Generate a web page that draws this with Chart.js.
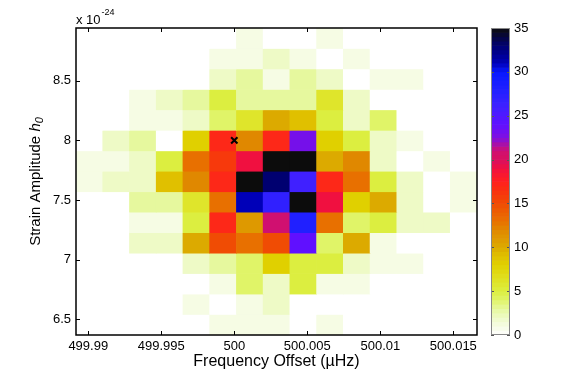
<!DOCTYPE html>
<html>
<head>
<meta charset="utf-8">
<script src="https://cdn.jsdelivr.net/npm/chart.js@4.4.1/dist/chart.umd.min.js"></script>
<style>
  body { margin: 0; background: #fff; }
  #wrap { position: relative; width: 581px; height: 378px; }
  #wrap canvas { position: absolute; left: 0; top: 0; }
</style>
</head>
<body>
<div id="wrap">
  <canvas id="heat" width="581" height="378"></canvas>
  <canvas id="cbar" width="581" height="378"></canvas>
</div>
<script>
// 2D histogram, bin centres in frequency, bin edges in strain (x 1e-24)
const freqCenters = [499.990075, 499.991906, 499.993737, 499.995568, 499.997398, 499.999229, 500.001060,
    500.002890, 500.004721, 500.006552, 500.008382, 500.010213, 500.012044, 500.013875, 500.015705];
const strainEdges = [8.942, 8.770, 8.599, 8.427, 8.256, 8.084, 7.912, 7.741, 7.569, 7.398, 7.226, 7.054, 6.883, 6.711, 6.540, 6.368];

// counts, rows from top (high h0) to bottom
const counts = [
    [0, 0, 0, 0, 0, 0, 1, 0, 0, 1, 0, 0, 0, 0, 0],
    [0, 0, 0, 0, 0, 1, 1, 2, 1, 0, 1, 0, 0, 0, 0],
    [0, 0, 0, 0, 0, 2, 3, 1, 3, 2, 0, 1, 1, 0, 0],
    [0, 0, 1, 2, 3, 5, 3, 3, 3, 6, 2, 0, 0, 0, 0],
    [0, 0, 1, 1, 2, 4, 6, 10, 9, 5, 2, 4, 0, 0, 0],
    [0, 2, 3, 0, 8, 17, 12, 17, 23, 8, 5, 2, 1, 0, 0],
    [1, 1, 2, 5, 13, 16, 19, 35, 35, 10, 12, 2, 0, 1, 0],
    [1, 2, 2, 9, 12, 17, 35, 33, 26, 17, 13, 5, 2, 0, 1],
    [0, 0, 3, 3, 6, 13, 31, 27, 35, 19, 8, 10, 2, 0, 1],
    [0, 0, 1, 1, 5, 17, 11, 21, 28, 13, 4, 5, 2, 2, 0],
    [0, 0, 2, 2, 10, 15, 13, 15, 24, 4, 10, 1, 0, 0, 0],
    [0, 0, 0, 0, 2, 3, 4, 8, 5, 5, 2, 1, 1, 0, 0],
    [0, 0, 0, 0, 0, 1, 4, 2, 5, 1, 1, 0, 0, 0, 0],
    [0, 0, 0, 0, 1, 0, 1, 2, 0, 0, 0, 0, 0, 0, 0],
    [0, 0, 0, 0, 0, 1, 1, 1, 0, 1, 0, 0, 0, 0, 0]
];

const injected = [{ x: 500, y: 8 }];

const xTicks = [499.99, 499.995, 500, 500.005, 500.01, 500.015];
const yTicks = [6.5, 7, 7.5, 8, 8.5];
const cbarTicks = [0, 5, 10, 15, 20, 25, 30, 35];

const cmapStops = [
    [0, '#ffffff'], [1, '#f6fce4'], [2, '#eefac6'], [3, '#e6f89e'], [4, '#e0f468'],
    [5, '#dcee40'], [6.5, '#e0e020'], [8, '#e0d000'], [9, '#e0c000'], [10, '#dcaa00'],
    [12, '#e08800'], [13, '#e87000'], [15, '#f04c04'], [16.5, '#fa3010'], [17.5, '#ff2020'],
    [19, '#f01040'], [20, '#d81060'], [21, '#d01070'], [22.5, '#8010e0'], [24, '#6010ff'],
    [26, '#4020ff'], [28, '#2020ff'], [30, '#0818ff'], [31, '#0000b8'], [33, '#000070'], [35, '#0c0c0c']
];

function hexRgb(h) {
    return [parseInt(h.slice(1, 3), 16), parseInt(h.slice(3, 5), 16), parseInt(h.slice(5, 7), 16)];
}

function cmap(v) {
    if (v <= cmapStops[0][0]) return cmapStops[0][1];
    for (let i = 1; i < cmapStops.length; i++) {
        if (v <= cmapStops[i][0]) {
            const [v0, c0] = cmapStops[i - 1];
            const [v1, c1] = cmapStops[i];
            const t = (v - v0) / (v1 - v0);
            const a = hexRgb(c0), b = hexRgb(c1);
            const rgb = a.map((q, k) => Math.round(q + (b[k] - q) * t));
            return `rgb(${rgb[0]},${rgb[1]},${rgb[2]})`;
        }
    }
    return cmapStops[cmapStops.length - 1][1];
}

Chart.defaults.color = '#000';
Chart.defaults.font.family = '"Liberation Sans", Arial, sans-serif';
Chart.defaults.font.size = 13;

const rowSets = counts.map((row, r) => ({
    type: 'bar',
    order: 1,
    data: row.map((n, c) => ({ x: freqCenters[c], y: [strainEdges[r + 1], strainEdges[r]] })),
    backgroundColor: row.map(n => cmap(n)),
    borderWidth: 0,
    grouped: false,
    barPercentage: 1,
    categoryPercentage: 1
}));

// frame, inward ticks and the odd bits of text
const heatDecor = {
    id: 'heatDecor',
    afterDatasetsDraw(chart) {
        const { ctx, chartArea: a, scales: { x, y } } = chart;
        ctx.save();
        ctx.strokeStyle = '#000';
        ctx.lineWidth = 1;
        ctx.beginPath();
        x.ticks.forEach(t => {
            const px = Math.round(x.getPixelForValue(t.value)) + 0.5;
            ctx.moveTo(px, a.bottom); ctx.lineTo(px, a.bottom - 4);
            ctx.moveTo(px, a.top); ctx.lineTo(px, a.top + 4);
        });
        y.ticks.forEach(t => {
            const py = Math.round(y.getPixelForValue(t.value)) + 0.5;
            ctx.moveTo(a.left, py); ctx.lineTo(a.left + 4, py);
            ctx.moveTo(a.right, py); ctx.lineTo(a.right - 4, py);
        });
        ctx.stroke();
        ctx.lineWidth = 1.5;
        ctx.strokeRect(a.left, a.top, a.right - a.left, a.bottom - a.top);

        // exponent
        ctx.fillStyle = '#000';
        ctx.textBaseline = 'alphabetic';
        ctx.textAlign = 'left';
        ctx.font = '13px "Liberation Sans", Arial, sans-serif';
        ctx.fillText('x 10', a.left, 24);
        const w10 = ctx.measureText('x 10').width;
        ctx.font = '9px "Liberation Sans", Arial, sans-serif';
        ctx.fillText('-24', a.left + w10 + 1, 15);

        // y title with italic h and subscript 0
        const fNorm = '15px "Liberation Sans", Arial, sans-serif';
        const fItal = 'italic 15px "Liberation Sans", Arial, sans-serif';
        const fSub = 'italic 11px "Liberation Sans", Arial, sans-serif';
        const p1 = 'Strain Amplitude ';
        ctx.font = fNorm; const w1 = ctx.measureText(p1).width;
        ctx.font = fItal; const w2 = ctx.measureText('h').width;
        ctx.font = fSub; const w3 = ctx.measureText('0').width;
        const total = w1 + w2 + w3;
        ctx.translate(40, (a.top + a.bottom) / 2);
        ctx.rotate(-Math.PI / 2);
        let sx = -total / 2;
        ctx.font = fNorm; ctx.fillText(p1, sx, 0); sx += w1;
        ctx.font = fItal; ctx.fillText('h', sx, 0); sx += w2;
        ctx.font = fSub; ctx.fillText('0', sx, 3);
        ctx.restore();
    }
};

new Chart(document.getElementById('heat'), {
    type: 'bar',
    data: {
        datasets: [
            {
                type: 'scatter',
                order: 0,
                data: injected,
                pointStyle: 'crossRot',
                radius: 4.5,
                borderWidth: 2,
                borderColor: '#000',
                backgroundColor: '#000'
            },
            ...rowSets
        ]
    },
    options: {
        responsive: false,
        animation: false,
        events: [],
        layout: { padding: { left: 0, right: 104, top: 28, bottom: 0 } },
        plugins: { legend: { display: false }, tooltip: { enabled: false } },
        scales: {
            x: {
                type: 'linear',
                offset: false,
                min: 499.98916,
                max: 500.01662,
                grid: { display: false, drawTicks: false },
                border: { display: false },
                afterBuildTicks: s => { s.ticks = xTicks.map(v => ({ value: v })); },
                afterFit: s => { s.height = 43; },
                ticks: { padding: 4, maxRotation: 0, autoSkip: false, callback: v => String(v) },
                title: { display: true, text: 'Frequency Offset (\u00b5Hz)', font: { size: 16 }, padding: { top: 0, bottom: 7 } }
            },
            y: {
                type: 'linear',
                min: 6.368,
                max: 8.942,
                grid: { display: false, drawTicks: false },
                border: { display: false },
                afterBuildTicks: s => { s.ticks = yTicks.map(v => ({ value: v })); },
                afterFit: s => { s.width = 76; },
                ticks: { padding: 5, autoSkip: false, callback: v => String(v) }
            }
        }
    },
    plugins: [heatDecor]
});

// colour bar: one thin horizontal bar per level, drawn on its own value axis
const cbarLevels = [];
for (let v = 0.25; v < 35; v += 0.5) cbarLevels.push(v);

const cbarDecor = {
    id: 'cbarDecor',
    afterDatasetsDraw(chart) {
        const { ctx, chartArea: a, scales: { y } } = chart;
        ctx.save();
        ctx.strokeStyle = '#555';
        ctx.lineWidth = 1;
        ctx.beginPath();
        y.ticks.forEach(t => {
            const py = Math.round(y.getPixelForValue(t.value)) + 0.5;
            ctx.moveTo(a.left, py); ctx.lineTo(a.left + 3, py);
            ctx.moveTo(a.right, py); ctx.lineTo(a.right - 3, py);
        });
        ctx.stroke();
        ctx.strokeStyle = '#888';
        ctx.strokeRect(a.left + 0.5, a.top + 0.5, a.right - a.left - 1, a.bottom - a.top - 1);
        ctx.restore();
    }
};

new Chart(document.getElementById('cbar'), {
    type: 'bar',
    data: {
        datasets: [{
            data: cbarLevels.map(v => ({ x: 1, y: v })),
            backgroundColor: cbarLevels.map(v => cmap(v)),
            borderWidth: 0,
            barPercentage: 1,
            categoryPercentage: 1
        }]
    },
    options: {
        indexAxis: 'y',
        responsive: false,
        animation: false,
        events: [],
        layout: { padding: { left: 491, right: 0, top: 28, bottom: 43 } },
        plugins: { legend: { display: false }, tooltip: { enabled: false } },
        scales: {
            x: { type: 'linear', min: 0, max: 1, display: false },
            y: {
                type: 'linear',
                position: 'right',
                offset: false,
                min: 0,
                max: 35,
                grid: { display: false, drawTicks: false },
                border: { display: false },
                afterBuildTicks: s => { s.ticks = cbarTicks.map(v => ({ value: v })); },
                afterFit: s => { s.width = 71; },
                ticks: { padding: 4, autoSkip: false }
            }
        }
    },
    plugins: [cbarDecor]
});
</script>
</body>
</html>
